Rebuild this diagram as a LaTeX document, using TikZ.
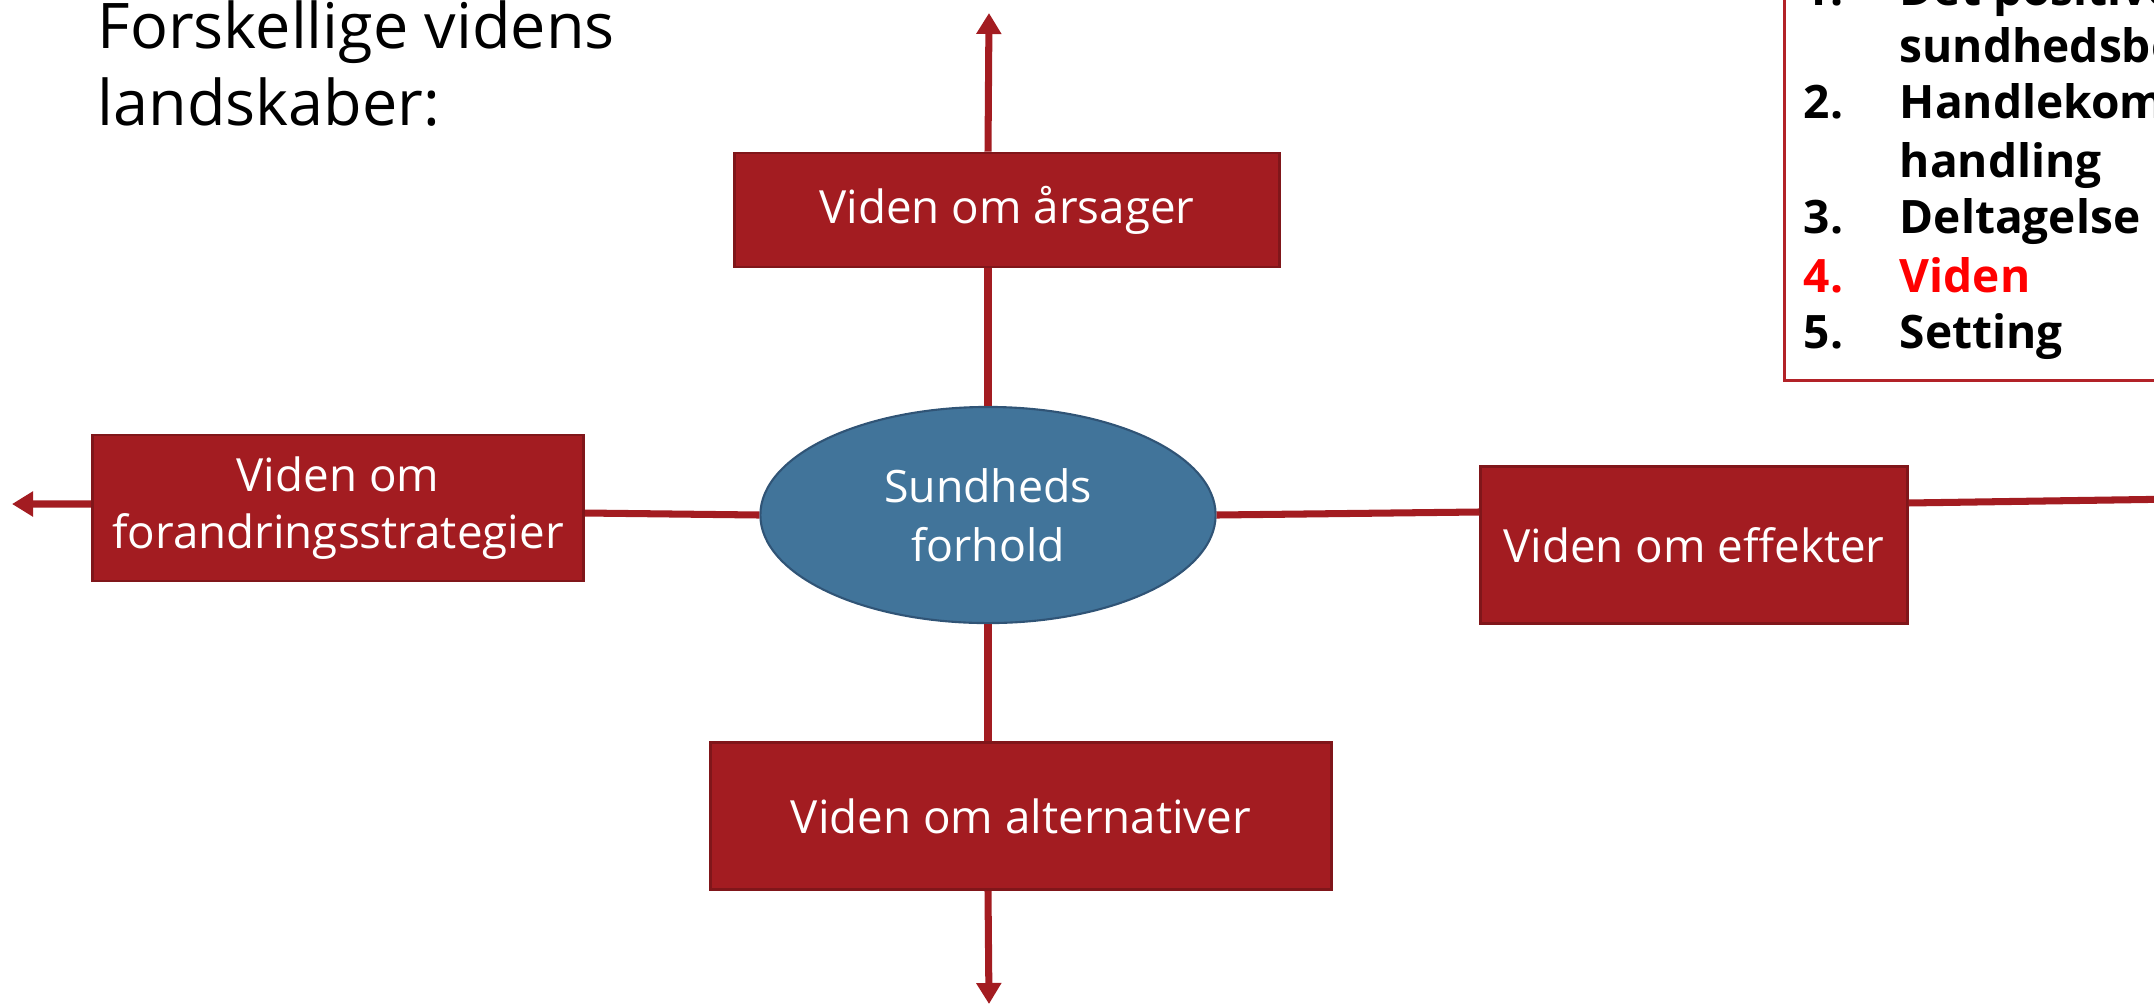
\documentclass[tikz,border=0pt]{standalone}
\usepackage{fontspec}
\setmainfont{Open Sans}
\usetikzlibrary{arrows.meta,shapes.geometric}
\definecolor{boksrod}{RGB}{163,28,33}
\definecolor{kantrod}{RGB}{128,22,26}
\definecolor{midtblaa}{RGB}{65,116,154}
\definecolor{kantblaa}{RGB}{48,84,118}
\definecolor{rammerod}{RGB}{178,34,40}
\newcommand{\nr}[1]{\makebox[0.96cm][l]{#1}}

\begin{document}
\begin{tikzpicture}[x=0.01cm, y=-0.01cm,
    boks/.style = {shape=rectangle, draw=kantrod, line width=0.8pt,
      fill=boksrod, text=white, align=center, inner sep=0pt,
      font=\fontsize{13}{16.3}\selectfont},
    midte/.style = {shape=ellipse, draw=kantblaa, line width=0.6pt,
      fill=midtblaa, text=white, align=center, inner sep=0pt,
      font=\fontsize{12.7}{16.8}\selectfont},
    linje/.style = {draw=boksrod, line width=2pt},
    pil/.style = {linje, -{Triangle[length=0.21cm, width=0.24cm]}},
    titel/.style = {anchor=base west, inner sep=0pt,
      font=\fontsize{17.9}{21.9}\selectfont},
    punkt/.style = {anchor=base west, inner sep=0pt,
      font=\bfseries\fontsize{13.1}{16}\selectfont}]
    \useasboundingbox (0,0) rectangle (2154,1005);
    \clip (0,0) rectangle (2154,1005);

    % overskrift
    \node[titel] (titel1) at (97,48) {Forskellige videns};
    \node[titel] (titel2) at (97,125) {landskaber:};

    % midten og de fire felter
    \node[midte, minimum width=4.55cm, minimum height=2.16cm] (sund) at (988,515)
        {Sundheds \\ forhold};
    \node[boks, minimum width=5.45cm, minimum height=1.14cm] (aarsag) at (1007,210)
        {Viden om årsager};
    \node[boks, minimum width=6.20cm, minimum height=1.47cm] (alt) at (1021,816)
        {Viden om alternativer};
    \node[boks, minimum width=4.91cm, minimum height=1.46cm] (strat) at (338,508)
        {Viden om \\ forandringsstrategier};
    \node[boks, minimum width=4.26cm, minimum height=1.57cm] (eff) at (1694,545)
        {Viden om effekter};

    % pilenes endepunkter
    \coordinate (op) at (989,13);
    \coordinate (ned) at (989,1004);
    \coordinate (venstre) at (12,504);
    \coordinate (hoejre) at (2180,499);

    % forbindelser
    \draw[linje] (sund.north) -- (sund.north |- aarsag.south);
    \draw[pil] (sund.north |- aarsag.north) -- (op);
    \draw[linje] (sund.south) -- (sund.south |- alt.north);
    \draw[pil] (sund.south |- alt.south) -- (ned);
    \draw[linje] (sund.west) -- ([yshift=-0.05cm]strat.east);
    \draw[pil] ([yshift=0.04cm]strat.west) -- (venstre);
    \draw[linje] (sund.east) -- ([yshift=0.33cm]eff.west);
    \draw[pil] ([yshift=0.42cm]eff.east) -- (hoejre);

    % listen oppe til hoejre
    \node[draw=rammerod, line width=0.8pt, inner sep=0pt, anchor=south west,
        minimum width=4.2cm, minimum height=4.2cm] (ramme) at (1783,382) {};
    \node[punkt] (p1) at (1803,5) {\nr{1.}Det positive};
    \node[punkt] (p1b) at (1803,62) {\nr{}sundhedsbegreb};
    \node[punkt] (p2) at (1803,118) {\nr{2.}Handlekompetence};
    \node[punkt] (p2b) at (1803,177) {\nr{}handling};
    \node[punkt] (p3) at (1803,233) {\nr{3.}Deltagelse};
    \node[punkt, text=red] (p4) at (1803,292) {\nr{4.}Viden};
    \node[punkt] (p5) at (1803,348) {\nr{5.}Setting};
\end{tikzpicture}
\end{document}
